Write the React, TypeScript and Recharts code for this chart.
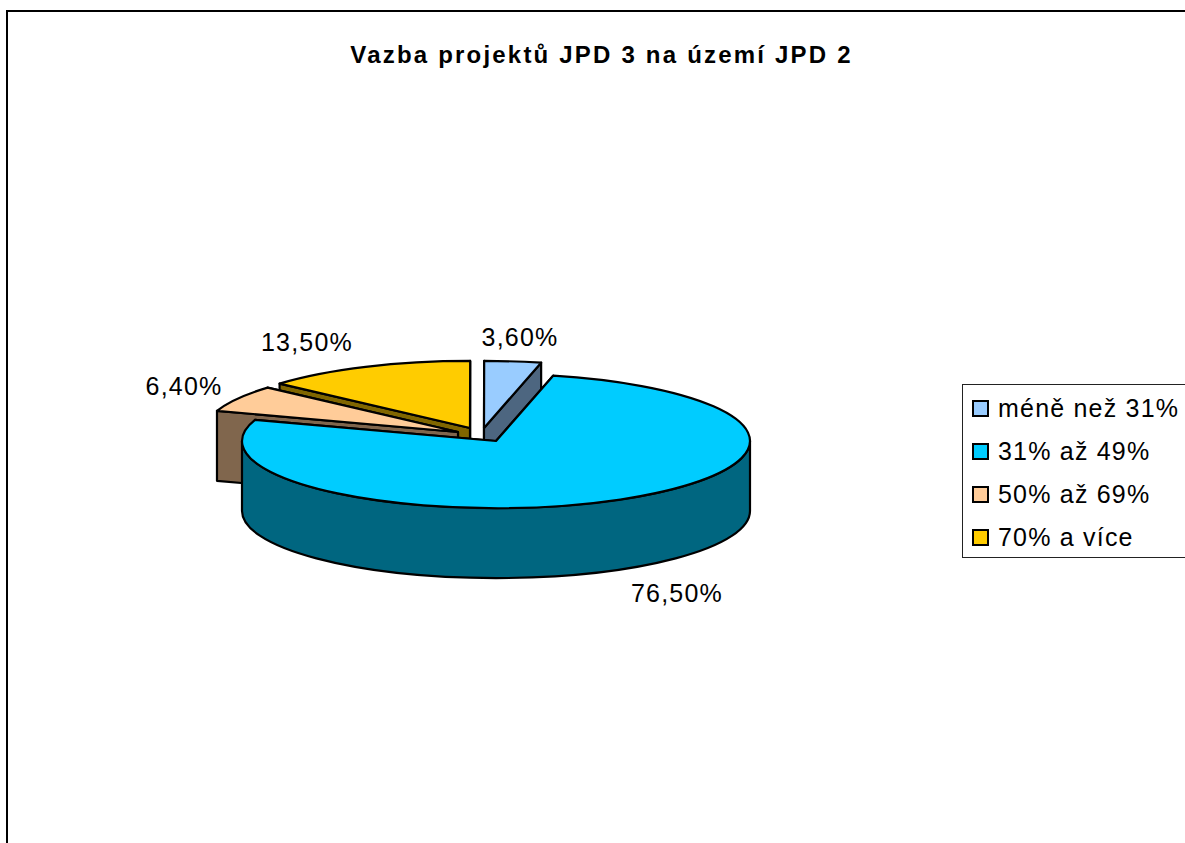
import React from "react";
import { PieChart, Pie, Legend } from "recharts";

// Slices are listed in back-to-front painting order.
const sliceNames = ["méně než 31%", "70% a více", "50% až 69%", "31% až 49%"];
const sliceValues = [3.6, 13.5, 6.4, 76.5];
const sliceLabels = ["3,60%", "13,50%", "6,40%", "76,50%"];
const legendOrder = ["méně než 31%", "31% až 49%", "50% až 69%", "70% a více"];
const titleText = "Vazba projektů JPD 3 na území JPD 2";

const data = sliceNames.map((name, i) => ({ name, value: sliceValues[i], label: sliceLabels[i] }));

const looks: Record<string, { top: string; side: string; dx: number; dy: number; lx: number; ly: number }> = {
  "méně než 31%": { top: "#99CCFF", side: "#4D6680", dx: -12, dy: -13, lx: 24, ly: -104 },
  "31% až 49%": { top: "#00CCFF", side: "#006680", dx: 0, dy: 0, lx: 181, ly: 152 },
  "50% až 69%": { top: "#FFCC99", side: "#80664D", dx: -38, dy: -9, lx: -312, ly: -55 },
  "70% a více": { top: "#FFCC00", side: "#806600", dx: -26, dy: -13, lx: -189, ly: -99 },
};

const TILT = 0.264;
const DEPTH = 70;
const RAD = Math.PI / 180;

function Slice3D(props: any) {
  const { cx, cy, outerRadius, startAngle, endAngle, name } = props;
  const look = looks[name];
  const ox = cx + look.dx;
  const oy = cy + look.dy;
  const rx = outerRadius;
  const ry = outerRadius * TILT;
  const pt = (deg: number) => [ox + rx * Math.cos(deg * RAD), oy - ry * Math.sin(deg * RAD)];
  const lo = Math.min(startAngle, endAngle);
  const hi = Math.max(startAngle, endAngle);
  const arc = (a: number, b: number, d: number, rev = false) => {
    const [x, y] = pt(rev ? a : b);
    const large = Math.abs(b - a) > 180 ? 1 : 0;
    return `A${rx} ${ry} 0 ${large} ${rev ? 1 : 0} ${x} ${y + d}`;
  };
  const [sx, sy] = pt(lo);
  const [ex, ey] = pt(hi);
  const topPath = `M${ox} ${oy}L${sx} ${sy}${arc(lo, hi, 0)}Z`;

  const edge = ([x, y]: number[]) =>
    `M${ox} ${oy}L${x} ${y}L${x} ${y + DEPTH}L${ox} ${oy + DEPTH}Z`;
  const edges = [[sx, sy], [ex, ey]].sort((p, q) => p[1] - q[1]);

  const walls: string[] = [];
  [[180, 360], [540, 720]].forEach(([fa, fb]) => {
    const a = Math.max(lo, fa);
    const b = Math.min(hi, fb);
    if (b > a) {
      const [ax, ay] = pt(a);
      const [bx, by] = pt(b);
      walls.push(`M${ax} ${ay}${arc(a, b, 0)}L${bx} ${by + DEPTH}${arc(a, b, DEPTH, true)}L${ax} ${ay}Z`);
    }
  });

  const stroke = { stroke: "#000", strokeWidth: 2.2, strokeLinejoin: "round" as const };
  return (
    <g>
      {edges.map((p, i) => (
        <path key={i} d={edge(p)} fill={look.side} {...stroke} />
      ))}
      {walls.map((d, i) => (
        <path key={i} d={d} fill={look.side} {...stroke} />
      ))}
      <path d={topPath} fill={look.top} {...stroke} />
    </g>
  );
}

function sliceLabel(props: any) {
  const { cx, cy, name, payload } = props;
  const look = looks[name ?? payload?.name];
  return (
    <text
      x={cx + look.lx}
      y={cy + look.ly}
      textAnchor="middle"
      dominantBaseline="central"
      fontFamily="'Liberation Sans', Arial, sans-serif"
      fontSize={25}
      letterSpacing={1.2}
      fill="#000"
    >
      {payload?.label ?? props.label}
    </text>
  );
}

function LegendBox() {
  return (
    <div
      style={{
        width: 240,
        height: 174,
        boxSizing: "border-box",
        border: "1px solid #222",
        background: "#fff",
        fontFamily: "'Liberation Sans', Arial, sans-serif",
        fontSize: 25,
        letterSpacing: 1.2,
        color: "#000",
        position: "relative",
      }}
    >
      {legendOrder.map((name, i) => (
        <div
          key={name}
          style={{ position: "absolute", left: 9, top: 2 + i * 43, height: 43, display: "flex", alignItems: "center", whiteSpace: "nowrap" }}
        >
          <span
            style={{
              display: "inline-block",
              width: 17,
              height: 17,
              boxSizing: "border-box",
              border: "2px solid #000",
              background: looks[name].top,
              marginRight: 9,
            }}
          />
          {name}
        </div>
      ))}
    </div>
  );
}

export default function App() {
  return (
    <div style={{ position: "absolute", left: 0, top: 0, width: 1185, height: 843, overflow: "hidden", background: "#fff" }}>
      <div
        style={{
          position: "absolute",
          left: 6,
          top: 10,
          width: 1300,
          height: 1000,
          border: "2px solid #000",
          boxSizing: "border-box",
        }}
      />
      <div
        style={{
          position: "absolute",
          left: 0,
          width: 1203,
          top: 41,
          textAlign: "center",
          fontFamily: "'Liberation Sans', Arial, sans-serif",
          fontWeight: 700,
          fontSize: 24,
          letterSpacing: 2.2,
          whiteSpace: "nowrap",
          color: "#000",
        }}
      >
        {titleText}
      </div>
      <PieChart width={1185} height={843} margin={{ top: 0, right: 0, bottom: 0, left: 0 }} style={{ position: "absolute", left: 0, top: 0 }}>
        <Pie
          data={data}
          dataKey="value"
          nameKey="name"
          cx={496}
          cy={441}
          innerRadius={0}
          outerRadius={254}
          startAngle={77}
          endAngle={437}
          stroke="none"
          shape={Slice3D}
          label={sliceLabel}
          labelLine={false}
          isAnimationActive={false}
        />
        <Legend content={<LegendBox />} wrapperStyle={{ position: "absolute", left: 962, top: 384, width: 240, bottom: "auto", right: "auto" }} />
      </PieChart>
    </div>
  );
}
